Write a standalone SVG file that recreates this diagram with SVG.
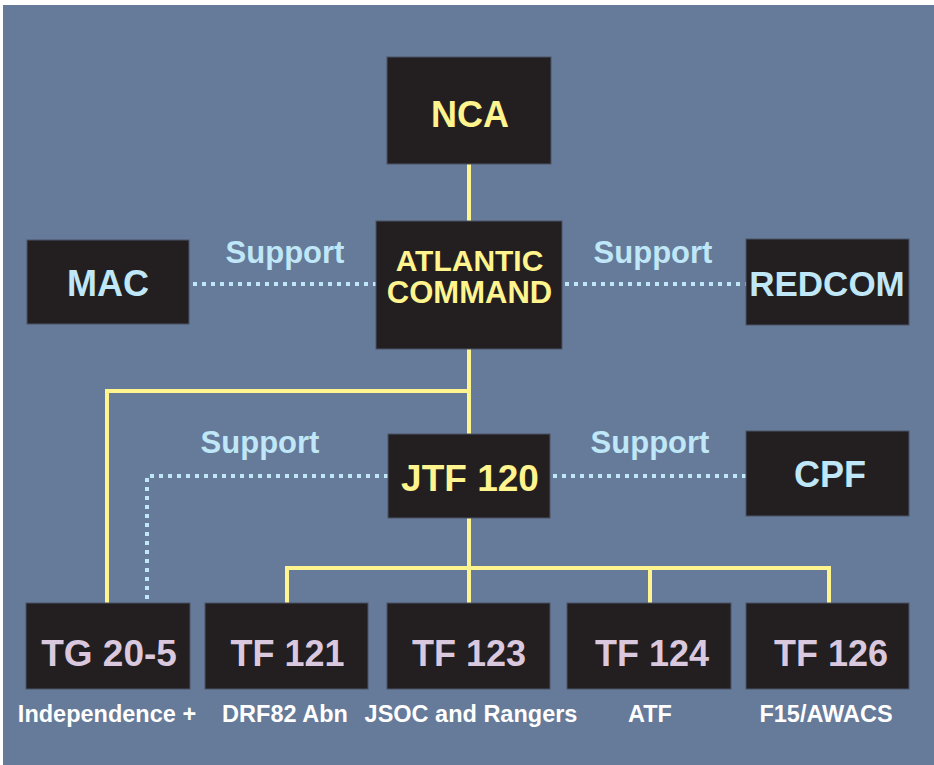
<svg xmlns="http://www.w3.org/2000/svg" width="934" height="765" viewBox="0 0 934 765">
<style>
.box{fill:#231f20;stroke:#4b5566;stroke-width:1}
.t{font-family:"Liberation Sans",Arial,sans-serif;font-weight:bold;text-anchor:middle}
.y{fill:#fff48e}
.b{fill:#bfe7f7}
.l{fill:#dac8df}
.w{fill:#ffffff;font-size:23.5px}
.solid{stroke:#fff48e;stroke-width:4;fill:none}
.dot{stroke:#bfe7f7;stroke-width:4;stroke-dasharray:4 5;fill:none}
</style>
<rect x="3" y="5" width="931" height="760" fill="#667a99"/>
<g id="connectors">
<line class="solid" x1="469" y1="164" x2="469" y2="221"/>
<polyline class="solid" points="469,349 469,434"/>
<polyline class="solid" points="469,391 107,391 107,603"/>
<line class="solid" x1="469" y1="518" x2="469" y2="603"/>
<polyline class="solid" points="287,603 287,568 829,568 829,603"/>
<line class="solid" x1="650" y1="568" x2="650" y2="603"/>
<line class="dot" x1="193" y1="284" x2="376" y2="284"/>
<line class="dot" x1="565" y1="284" x2="746" y2="284"/>
<line class="dot" x1="553" y1="476" x2="746" y2="476"/>
<polyline class="dot" points="388,476 147,476 147,603"/>
</g>
<g id="support-labels" class="t b" font-size="31">
<text x="285" y="263">Support</text>
<text x="653" y="263">Support</text>
<text x="260" y="453">Support</text>
<text x="650" y="453">Support</text>
</g>
<g id="nca"><rect class="box" x="387" y="57" width="164" height="107"/><text class="t y" x="470" y="127" font-size="36">NCA</text></g>
<g id="atlantic"><rect class="box" x="376" y="221" width="186" height="128"/><text class="t y" x="469.5" y="271" font-size="30">ATLANTIC</text><text class="t y" x="469.5" y="303" font-size="31">COMMAND</text></g>
<g id="mac"><rect class="box" x="27" y="240" width="162" height="84"/><text class="t b" x="108" y="296" font-size="36">MAC</text></g>
<g id="redcom"><rect class="box" x="746" y="239" width="163" height="86"/><text class="t b" x="827" y="296" font-size="35">REDCOM</text></g>
<g id="jtf120"><rect class="box" x="388" y="434" width="162" height="84"/><text class="t y" x="470" y="491" font-size="37">JTF 120</text></g>
<g id="cpf"><rect class="box" x="746" y="431" width="163" height="85"/><text class="t b" x="830" y="487" font-size="36">CPF</text></g>
<g id="tg205"><rect class="box" x="26" y="603" width="164" height="86"/><text class="t l" x="109" y="666" font-size="37">TG 20-5</text><text class="t w" x="107" y="722">Independence +</text></g>
<g id="tf121"><rect class="box" x="205" y="603" width="163" height="86"/><text class="t l" x="287.5" y="666" font-size="36">TF 121</text><text class="t w" x="285" y="722">DRF82 Abn</text></g>
<g id="tf123"><rect class="box" x="387" y="603" width="163" height="86"/><text class="t l" x="469" y="666" font-size="36">TF 123</text><text class="t w" x="471" y="722">JSOC and Rangers</text></g>
<g id="tf124"><rect class="box" x="567" y="603" width="164" height="86"/><text class="t l" x="652" y="666" font-size="36">TF 124</text><text class="t w" x="650" y="722">ATF</text></g>
<g id="tf126"><rect class="box" x="746" y="603" width="163" height="86"/><text class="t l" x="831" y="666" font-size="36">TF 126</text><text class="t w" x="826" y="722">F15/AWACS</text></g>
</svg>
